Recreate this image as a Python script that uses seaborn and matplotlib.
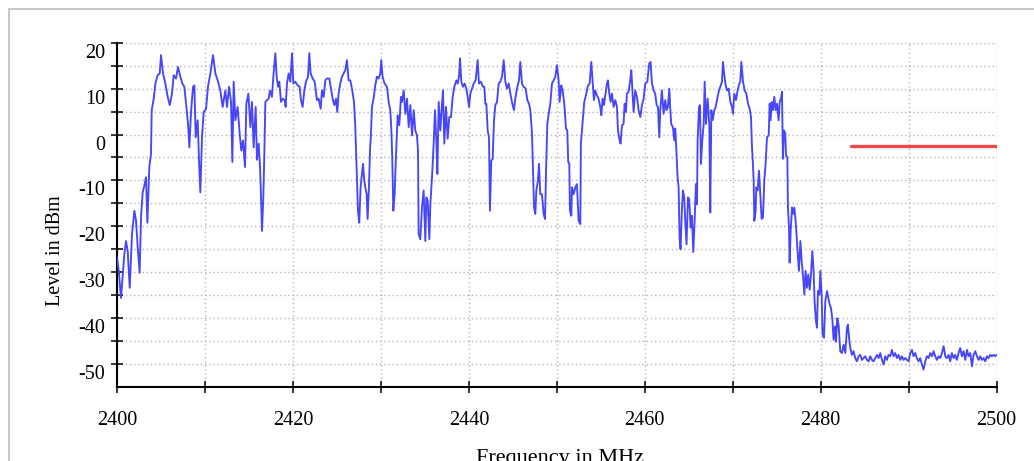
import matplotlib
matplotlib.use("Agg")
import seaborn as sns
from matplotlib import pyplot as plt
from matplotlib.patches import Rectangle
from matplotlib.transforms import ScaledTranslation

# spectrum trace (MHz, dBm)
freq_mhz = [
    2400.00, 2400.19, 2400.45, 2400.68, 2400.83, 2401.02, 2401.21, 2401.44, 2401.70, 2401.97,
    2402.16, 2402.35, 2402.57, 2402.73, 2402.92, 2403.14, 2403.29, 2403.45, 2403.67, 2403.86,
    2403.94, 2404.17, 2404.36, 2404.62, 2404.85, 2405.00, 2405.23, 2405.49, 2405.76, 2405.99,
    2406.25, 2406.44, 2406.70, 2406.93, 2407.20, 2407.42, 2407.65, 2407.88, 2408.07, 2408.22,
    2408.41, 2408.64, 2408.79, 2408.94, 2409.17, 2409.32, 2409.47, 2409.66, 2409.85, 2410.12,
    2410.34, 2410.61, 2410.91, 2411.18, 2411.44, 2411.74, 2412.01, 2412.31, 2412.50, 2412.73,
    2412.96, 2413.11, 2413.26, 2413.45, 2413.71, 2413.94, 2414.13, 2414.32, 2414.55, 2414.70,
    2414.93, 2415.16, 2415.34, 2415.53, 2415.76, 2415.91, 2416.10, 2416.25, 2416.36, 2416.48,
    2416.63, 2416.74, 2416.86, 2417.05, 2417.24, 2417.39, 2417.61, 2417.80, 2418.00, 2418.15,
    2418.30, 2418.45, 2418.64, 2418.83, 2419.05, 2419.17, 2419.32, 2419.51, 2419.70, 2419.89,
    2420.04, 2420.27, 2420.53, 2420.76, 2420.91, 2421.10, 2421.29, 2421.48, 2421.71, 2421.86,
    2422.01, 2422.24, 2422.47, 2422.73, 2422.92, 2423.15, 2423.30, 2423.49, 2423.68, 2423.87,
    2424.13, 2424.36, 2424.51, 2424.70, 2424.89, 2425.04, 2425.19, 2425.38, 2425.57, 2425.76,
    2425.95, 2426.14, 2426.33, 2426.52, 2426.71, 2426.94, 2427.09, 2427.20, 2427.32, 2427.39,
    2427.54, 2427.69, 2427.85, 2427.96, 2428.11, 2428.22, 2428.38, 2428.49, 2428.64, 2428.76,
    2428.87, 2428.98, 2429.17, 2429.36, 2429.55, 2429.74, 2429.93, 2430.04, 2430.19, 2430.42,
    2430.69, 2430.88, 2431.07, 2431.18, 2431.29, 2431.41, 2431.56, 2431.71, 2431.90, 2432.09,
    2432.28, 2432.40, 2432.59, 2432.78, 2432.97, 2433.16, 2433.35, 2433.54, 2433.73, 2433.91,
    2434.10, 2434.22, 2434.29, 2434.48, 2434.67, 2434.86, 2435.05, 2435.17, 2435.32, 2435.51,
    2435.62, 2435.81, 2436.00, 2436.15, 2436.30, 2436.42, 2436.57, 2436.76, 2436.95, 2437.06,
    2437.21, 2437.40, 2437.59, 2437.78, 2437.97, 2438.16, 2438.35, 2438.58, 2438.73, 2438.88,
    2439.00, 2439.14, 2439.33, 2439.52, 2439.71, 2439.90, 2440.02, 2440.17, 2440.36, 2440.55,
    2440.77, 2441.00, 2441.15, 2441.38, 2441.61, 2441.76, 2441.87, 2441.99, 2442.14, 2442.29,
    2442.40, 2442.55, 2442.71, 2442.86, 2443.01, 2443.20, 2443.39, 2443.58, 2443.77, 2443.96,
    2444.15, 2444.34, 2444.53, 2444.72, 2444.94, 2445.13, 2445.28, 2445.47, 2445.70, 2445.85,
    2446.04, 2446.23, 2446.46, 2446.65, 2446.84, 2446.99, 2447.18, 2447.29, 2447.41, 2447.56,
    2447.67, 2447.86, 2447.97, 2448.12, 2448.31, 2448.50, 2448.66, 2448.77, 2448.92, 2449.10,
    2449.26, 2449.45, 2449.64, 2449.83, 2450.02, 2450.21, 2450.32, 2450.51, 2450.66, 2450.85,
    2451.04, 2451.19, 2451.30, 2451.42, 2451.49, 2451.65, 2451.72, 2451.91, 2452.10, 2452.29,
    2452.48, 2452.67, 2452.74, 2452.93, 2453.12, 2453.31, 2453.50, 2453.73, 2453.92, 2454.07,
    2454.22, 2454.37, 2454.56, 2454.75, 2454.94, 2455.06, 2455.21, 2455.36, 2455.51, 2455.70,
    2455.81, 2455.97, 2456.12, 2456.27, 2456.46, 2456.65, 2456.84, 2456.95, 2457.10, 2457.25,
    2457.41, 2457.59, 2457.71, 2457.86, 2457.97, 2458.16, 2458.35, 2458.47, 2458.62, 2458.73,
    2458.92, 2459.11, 2459.30, 2459.49, 2459.68, 2459.87, 2460.06, 2460.29, 2460.51, 2460.66,
    2460.82, 2461.01, 2461.19, 2461.35, 2461.50, 2461.65, 2461.76, 2461.95, 2462.14, 2462.33,
    2462.48, 2462.63, 2462.79, 2462.90, 2463.01, 2463.20, 2463.36, 2463.47, 2463.58, 2463.73,
    2463.85, 2463.96, 2464.07, 2464.22, 2464.34, 2464.49, 2464.60, 2464.75, 2464.91, 2465.06,
    2465.21, 2465.36, 2465.52, 2465.67, 2465.82, 2465.94, 2466.01, 2466.17, 2466.28, 2466.39,
    2466.54, 2466.70, 2466.81, 2466.96, 2467.15, 2467.34, 2467.45, 2467.57, 2467.72, 2467.91,
    2468.06, 2468.21, 2468.40, 2468.59, 2468.78, 2468.89, 2469.05, 2469.20, 2469.35, 2469.54,
    2469.73, 2469.92, 2470.03, 2470.18, 2470.37, 2470.56, 2470.75, 2470.86, 2470.98, 2471.17,
    2471.36, 2471.55, 2471.74, 2471.93, 2472.08, 2472.19, 2472.30, 2472.38, 2472.46, 2472.61,
    2472.68, 2472.83, 2472.99, 2473.14, 2473.29, 2473.44, 2473.59, 2473.74, 2473.90, 2474.09,
    2474.20, 2474.31, 2474.43, 2474.58, 2474.73, 2474.88, 2475.03, 2475.22, 2475.34, 2475.49,
    2475.60, 2475.71, 2475.83, 2475.98, 2476.06, 2476.21, 2476.28, 2476.40, 2476.47, 2476.59,
    2476.74, 2476.85, 2477.00, 2477.12, 2477.23, 2477.38, 2477.53, 2477.69, 2477.84, 2477.99,
    2478.14, 2478.29, 2478.44, 2478.59, 2478.75, 2478.90, 2479.05, 2479.20, 2479.31, 2479.47,
    2479.58, 2479.69, 2479.85, 2479.96, 2480.11, 2480.22, 2480.38, 2480.53, 2480.72, 2480.87,
    2481.02, 2481.17, 2481.32, 2481.47, 2481.63, 2481.74, 2481.89, 2482.04, 2482.16, 2482.23,
    2482.42, 2482.61, 2482.80, 2482.99, 2483.10, 2483.25, 2483.37, 2483.55, 2483.74, 2483.93,
    2484.12, 2484.31, 2484.50, 2484.69, 2484.88, 2485.07, 2485.26, 2485.45, 2485.64, 2485.83,
    2486.02, 2486.21, 2486.40, 2486.59, 2486.78, 2486.97, 2487.15, 2487.34, 2487.53, 2487.72,
    2487.91, 2488.10, 2488.29, 2488.48, 2488.67, 2488.86, 2489.05, 2489.24, 2489.43, 2489.62,
    2489.81, 2490.00, 2490.19, 2490.38, 2490.56, 2490.75, 2490.94, 2491.13, 2491.32, 2491.51,
    2491.70, 2491.89, 2492.08, 2492.27, 2492.46, 2492.65, 2492.84, 2493.03, 2493.22, 2493.41,
    2493.60, 2493.79, 2493.98, 2494.17, 2494.35, 2494.54, 2494.73, 2494.92, 2495.11, 2495.30,
    2495.49, 2495.68, 2495.87, 2496.06, 2496.25, 2496.44, 2496.63, 2496.82, 2497.01, 2497.20,
    2497.39, 2497.58, 2497.77, 2497.96, 2498.14, 2498.33, 2498.52, 2498.71, 2498.90, 2499.09,
    2499.28, 2499.47, 2499.66, 2499.85, 2500.00,
]

level_dbm = [
    -26.8, -29.7, -35.6, -29.7, -26.0, -23.2, -25.4, -33.4, -21.7, -16.6,
    -18.8, -24.6, -30.1, -17.7, -12.6, -10.8, -9.3, -19.2, -7.1, -4.2,
    5.3, 7.8, 11.1, 12.9, 13.3, 17.3, 13.3, 11.1, 8.2, 6.4,
    8.9, 12.9, 12.2, 14.7, 12.6, 11.1, 10.4, 6.0, 2.4, -2.8,
    4.9, 10.4, 10.7, -0.6, 3.1, -5.7, -12.6, -0.6, 4.9, 5.6,
    10.4, 13.3, 17.3, 13.3, 11.8, 9.6, 6.0, 9.6, 6.0, 10.4,
    7.1, -6.0, 11.5, 3.1, 6.0, 0.2, -3.5, -1.3, -7.1, 6.7,
    8.9, 1.6, 7.1, -2.8, 6.0, -5.5, -2.0, -6.8, -13.0, -21.0,
    -13.7, -4.9, 7.1, 7.5, 7.8, 9.6, 8.2, 13.3, 17.7, 12.6,
    10.4, 11.5, 7.1, 7.8, 7.5, 6.0, 11.1, 13.3, 11.5, 17.7,
    11.1, 11.5, 10.7, 10.4, 7.5, 6.0, 9.6, 11.5, 12.6, 17.7,
    13.3, 12.2, 11.5, 7.5, 7.8, 5.6, 9.6, 8.2, 11.8, 12.2,
    12.2, 9.6, 7.8, 6.4, 7.8, 4.9, 8.9, 11.1, 12.6, 13.3,
    14.0, 16.2, 11.8, 11.8, 10.0, 7.1, 1.6, -4.9, -12.2, -16.6,
    -19.2, -11.5, -8.6, -6.4, -10.0, -11.5, -13.0, -18.4, -11.5, -3.5,
    0.2, 6.0, 7.8, 10.7, 12.6, 12.2, 13.3, 16.2, 12.6, 11.1,
    10.4, 7.1, 5.3, 1.3, -4.9, -16.6, -13.0, -4.9, 4.2, 2.0,
    8.2, 7.1, 9.6, 4.5, 7.8, 1.6, 6.4, -0.2, 5.3, 0.9,
    -0.2, -3.5, -21.7, -22.8, -15.9, -12.2, -23.2, -13.7, -14.4, -22.8,
    -15.2, -9.3, -2.0, 5.3, -1.3, -8.6, 7.1, 0.9, 6.7, 9.6,
    -2.0, 6.0, -0.9, 3.8, 3.8, 8.2, 10.4, 11.8, 11.1, 12.6,
    16.6, 11.5, 10.4, 11.1, 10.0, 7.8, 6.0, 8.9, 10.0, 11.1,
    11.8, 16.2, 11.1, 11.5, 10.4, 10.4, 6.7, 6.7, 0.9, -0.6,
    -16.6, -5.7, -5.3, 3.1, 6.4, 7.1, 11.1, 11.5, 12.6, 16.2,
    11.5, 10.0, 11.1, 8.9, 6.7, 5.3, 7.8, 10.0, 11.8, 15.8,
    11.1, 10.4, 10.0, 7.5, 6.7, 5.3, 0.2, -7.1, -15.9, -17.3,
    -12.2, -10.0, -6.4, -13.0, -13.0, -17.3, -18.4, -8.6, 2.3, 4.8,
    6.7, 11.1, 11.8, 12.6, 15.1, 11.8, 7.1, 10.7, 9.6, 6.7,
    1.3, 0.9, -6.0, -6.4, -16.6, -17.7, -11.5, -13.0, -11.5, -10.8,
    -18.8, -19.5, -2.0, 2.7, 7.1, 8.5, 10.4, 11.1, 15.8, 11.8,
    7.5, 9.6, 8.5, 7.8, 6.0, 4.2, 7.8, 6.4, 8.5, 11.1,
    11.8, 8.9, 7.1, 8.9, 6.0, 7.5, 6.0, 0.9, -0.9, -2.0,
    2.0, 2.3, 6.7, 4.9, 8.9, 9.3, 11.8, 14.0, 8.5, 4.9,
    9.6, 8.2, 5.3, 3.8, 6.4, 7.8, 11.1, 11.5, 15.5, 15.8,
    11.1, 9.6, 8.9, 6.4, 6.0, -0.6, 5.3, 9.6, 4.5, 7.5,
    5.3, 6.0, 10.0, 5.6, 2.3, 1.6, -1.3, 1.3, -2.8, -9.3,
    -11.5, -22.5, -25.0, -16.6, -12.2, -13.7, -18.8, -23.9, -13.7, -14.1,
    -20.3, -17.7, -25.6, -18.8, -10.8, -15.2, -1.3, 6.0, 6.4, -6.4,
    -1.3, 2.3, 11.5, 2.3, 7.8, 2.0, -17.0, 5.3, 3.1, 5.3,
    6.0, 7.5, 9.3, 10.4, 11.5, 15.8, 12.9, 10.7, 9.6, 10.0,
    7.1, 6.0, 4.5, 8.9, 7.5, 9.6, 11.1, 11.5, 15.8, 11.5,
    9.6, 8.9, 6.7, 5.6, 3.8, -2.8, -6.4, -10.0, -18.8, -16.6,
    -11.5, -12.2, -7.9, -13.0, -18.4, -18.1, -10.0, -6.4, -0.6, -0.2,
    6.7, 3.1, 7.1, 5.3, 8.2, 5.3, 6.7, 3.1, 7.1, 7.8,
    9.3, -5.3, 0.9, 0.2, -4.6, -4.9, -15.9, -20.3, -27.9, -21.0,
    -15.9, -17.3, -15.9, -18.1, -21.0, -25.7, -29.7, -23.2, -27.6, -30.5,
    -34.9, -29.7, -33.4, -30.5, -33.8, -30.5, -25.4, -29.7, -36.3, -40.7,
    -42.1, -34.1, -34.9, -29.7, -34.9, -43.6, -44.3, -36.3, -34.1, -35.6,
    -37.0, -37.8, -40.0, -44.7, -41.8, -45.1, -40.0, -41.5, -45.1, -47.2,
    -47.6, -45.8, -47.6, -42.1, -41.4, -44.7, -46.5, -48.0, -47.2, -48.7,
    -49.4, -48.3, -48.0, -49.1, -48.7, -48.3, -49.1, -49.4, -48.3, -49.1,
    -49.4, -48.7, -48.0, -48.7, -47.6, -49.1, -50.1, -48.3, -49.1, -48.0,
    -48.3, -46.9, -48.3, -47.6, -48.7, -48.0, -49.1, -48.3, -49.1, -48.7,
    -49.1, -49.4, -47.6, -46.9, -48.3, -47.6, -48.7, -49.4, -48.7, -50.1,
    -51.2, -49.4, -48.3, -48.7, -47.6, -48.3, -47.2, -48.3, -49.1, -48.3,
    -48.7, -47.6, -46.1, -48.3, -48.7, -48.0, -49.4, -47.6, -48.7, -48.0,
    -49.1, -47.6, -46.5, -48.3, -47.2, -49.1, -46.9, -48.3, -47.6, -50.5,
    -48.0, -47.2, -48.3, -49.1, -48.3, -49.1, -48.7, -49.4, -48.3, -48.7,
    -48.0, -48.3, -48.0, -48.3, -48.0,
]

# limit line
limit_freq = [2483.5, 2500.0]
limit_level = [-2.5, -2.5]

x_ticks = [2400, 2420, 2440, 2460, 2480, 2500]
x_minor = [2410, 2430, 2450, 2470, 2490]
y_ticks = [-50, -40, -30, -20, -10, 0, 10, 20]
y_minor = [-45, -35, -25, -15, -5, 5, 15]

sns.set_theme(style="white")
plt.rcParams["font.family"] = ["Liberation Serif", "DejaVu Serif"]
plt.rcParams["axes.unicode_minus"] = False

fig = plt.figure(figsize=(10.34, 4.61), dpi=100)
ax = fig.add_axes([0.1132, 0.1605, 0.8506, 0.7469])

# outer frame of the page
fig.add_artist(Rectangle((8.5 / 1034, -0.1), 1.2, 1.1 - 9.5 / 461, transform=fig.transFigure,
                         fill=False, edgecolor="#c6c6c6", linewidth=1.5))

sns.lineplot(x=freq_mhz, y=level_dbm, ax=ax, color="#4646fa", linewidth=1.35,
             estimator=None, sort=False, zorder=3)
sns.lineplot(x=limit_freq, y=limit_level, ax=ax, color="#f04848", linewidth=2.4,
             estimator=None, sort=False, zorder=4)

ax.set_xlim(2400, 2500)
ax.set_ylim(-55, 20)
ax.set_xticks(x_ticks)
ax.set_xticks(x_minor, minor=True)
ax.set_yticks(y_ticks)
ax.set_yticks(y_minor, minor=True)

ax.set_axisbelow(True)
ax.grid(which="both", color="#b4b4b4", linestyle=(0, (1, 2)), linewidth=1.0)

for side in ["top", "right"]:
    ax.spines[side].set_visible(False)
for side in ["left", "bottom"]:
    ax.spines[side].set_color("black")
    ax.spines[side].set_linewidth(1.5)

ax.tick_params(which="both", direction="inout", length=8.6, width=1.1, color="black",
               labelcolor="black", labelsize=14.5, bottom=True, left=True)
ax.tick_params(axis="x", which="both", pad=12.7)
ax.tick_params(axis="y", which="both", pad=4.3)

# y tick labels sit a little below their ticks
for lab in ax.get_yticklabels():
    lab.set_transform(lab.get_transform() + ScaledTranslation(0, -8 / 100, fig.dpi_scale_trans))

ax.set_ylabel("Level in dBm", fontsize=14.5, color="black")
ax.yaxis.set_label_coords(-0.059, 0.395)
ax.set_xlabel("Frequency in MHz", fontsize=16, color="black")
ax.xaxis.set_label_coords(0.504, -0.181)

fig.savefig("out.png", dpi=100)
